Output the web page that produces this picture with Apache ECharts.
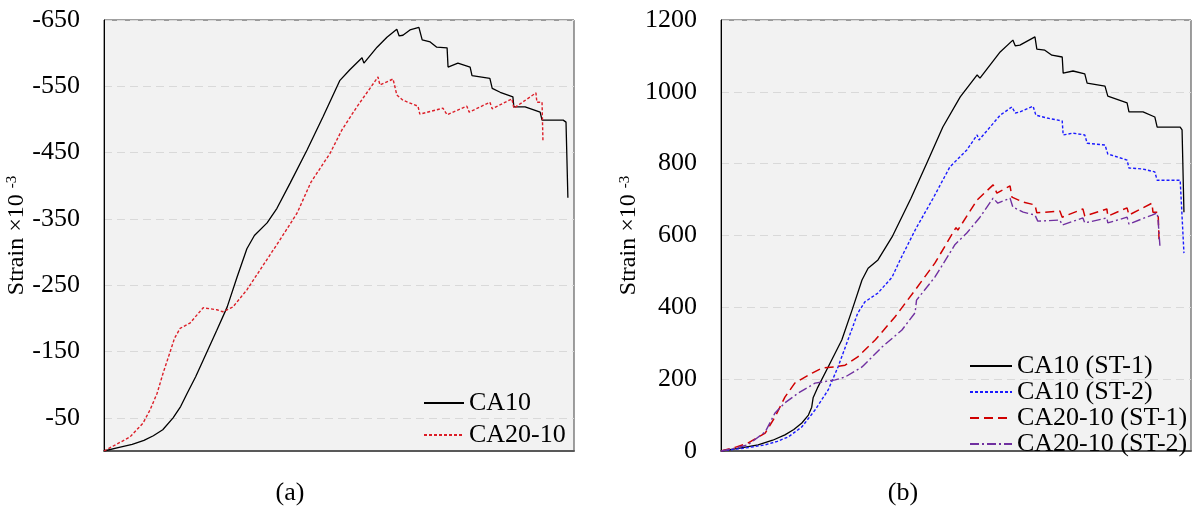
<!doctype html>
<html style="height: 100%">
    <head>
        <meta charset="utf-8">
        <title>Strain</title>
        <script src="https://cdn.jsdelivr.net/npm/echarts@6/dist/echarts.min.js"></script>
        <style>
            body { margin: 0; background: #fff; }
            #draw { width: 1195px; height: 508px; }
        </style>
    </head>
    <body>
        <div id="draw"></div>
        <script>
            // (a) 左图：应变为负，纵轴反向
            const leftTicks = [-650, -550, -450, -350, -250, -150, -50]
            const leftCA10 = [[0,0],[3,-5],[6,-10],[8.5,-16],[10.5,-23],[12.5,-32],[14.7,-50],[16.3,-67],[17.7,-87],[19.5,-112],[21.1,-137],[24,-182],[26.2,-217],[28.3,-262],[30.4,-305],[32,-325],[34.7,-344],[36.8,-366],[39.6,-404],[43.2,-454],[46.6,-504],[50.2,-559],[52.3,-575],[54.9,-593],[55.3,-585],[58.1,-609],[60.2,-624],[62.3,-636],[62.8,-626],[63.6,-627],[65.1,-635],[67,-639],[67.7,-620],[69.4,-617],[70.8,-609],[73,-608],[73.2,-579],[75.3,-585],[77.9,-579],[78.3,-566],[82.1,-562],[82.6,-547],[84.3,-541],[87,-534],[87.2,-519],[89.6,-519],[92.8,-511],[93.2,-499],[97.7,-499],[98.3,-496],[98.7,-382]]
            const leftCA2010 = [[0,0],[5.5,-21],[8.3,-42],[9.8,-62],[11.3,-87],[12.6,-118],[14,-148],[15,-170],[16.2,-185],[18.3,-193],[21.1,-216],[24,-213],[25.3,-210],[27.4,-217],[30.4,-243],[33.2,-273],[37.4,-318],[41.1,-359],[44,-405],[48.1,-449],[50.6,-484],[53.8,-519],[56,-541],[58.3,-564],[58.7,-552],[61.5,-561],[62.3,-537],[63.6,-529],[66.8,-520],[67.2,-508],[72.1,-517],[73,-507],[77.2,-520],[77.7,-511],[82.1,-526],[82.6,-516],[86.8,-531],[87.2,-517],[91.9,-540],[92.1,-526],[93.2,-526],[93.4,-466]]

            // (b) 右图
            const rightTicks = [0, 200, 400, 600, 800, 1000, 1200]
            const ca10st1 = [[0,0],[4,8],[7.9,17],[11,30],[13.6,45],[15.5,60],[17.2,78],[18.6,100],[19.3,122],[19.6,148],[20.5,175],[22.8,234],[25.7,309],[27.9,393],[30,476],[31.3,509],[33.4,532],[36.4,596],[40.4,703],[43.8,802],[47.2,902],[50.9,986],[54.5,1047],[55.1,1038],[59.4,1111],[62.1,1144],[62.6,1128],[63.6,1130],[66.8,1153],[67.2,1119],[68.9,1116],[70.4,1102],[72.6,1097],[72.8,1052],[74.9,1058],[77.4,1050],[77.9,1024],[81.7,1016],[82.3,988],[86.4,969],[86.8,944],[89.8,944],[92.3,930],[92.8,902],[97.7,902],[98.1,894],[98.5,665]]
            const ca10st2 = [[0,0],[5,8],[9.4,17],[12,27],[14.3,39],[17.2,67],[20,114],[22.8,170],[24.9,234],[27,309],[29.1,384],[30.6,415],[33.4,440],[36.4,484],[38.1,532],[41.5,620],[45.1,703],[48.7,791],[52.3,838],[54.5,880],[54.9,866],[59.4,935],[61.9,958],[62.6,941],[63.6,944],[66.4,960],[67,935],[69.4,927],[72.6,919],[72.8,880],[74.9,885],[77.4,880],[77.9,857],[81.7,852],[82.3,827],[86.4,810],[86.8,788],[89.8,785],[92.3,777],[92.8,754],[97.7,754],[98.5,551]]
            const ca2010st1 = [[0,0],[3,10],[5.7,22],[9.4,50],[11.5,95],[13.6,150],[15.7,189],[19.4,217],[21.5,231],[24.3,234],[26.4,239],[29.1,262],[32.8,309],[37,373],[41.3,448],[45.5,523],[50,622],[50.4,615],[54.5,699],[57.9,741],[58.3,741],[58.7,718],[61.5,738],[61.9,707],[64.3,693],[66.8,685],[67.2,663],[72.1,668],[72.6,651],[77,674],[77.4,654],[82.1,674],[82.3,654],[86.4,677],[86.8,657],[91.7,690],[91.9,665],[93,665],[93.2,587]]
            const ca2010st2 = [[0,0],[3,8],[5.7,17],[9.4,53],[11.5,106],[13.6,134],[16.4,161],[20,189],[24.3,198],[26.4,206],[30,234],[34.3,290],[38.5,337],[41.3,385],[41.6,420],[45.5,484],[49.8,575],[52.3,607],[55.1,651],[57.9,704],[58.3,704],[58.9,690],[61.5,704],[62.1,679],[64.3,665],[66.8,657],[67.4,640],[72.1,643],[72.6,629],[77,649],[77.4,635],[82.1,649],[82.3,635],[86.4,651],[86.8,632],[91.7,657],[92.8,663],[93,643],[93.4,568]]

            const serif = 'Liberation Serif'
            const gridLine = { show: true, lineStyle: { color: '#d9d9d9', type: [8, 5], width: 1 } }
            const yName = '{a|Strain ×10 }{b|-3}'
            const yNameStyle = {
                rich: {
                    a: { fontSize: 24, fontFamily: serif, color: '#000', lineHeight: 24 },
                    b: { fontSize: 15, fontFamily: serif, color: '#000', verticalAlign: 'top', lineHeight: 24 }
                }
            }
            const legendText = { fontSize: 26, fontFamily: serif, color: '#000' }

            function xAxis(i) {
                return {
                    gridIndex: i, type: 'value', min: 0, max: 100,
                    axisLabel: { show: false }, axisTick: { show: false }, splitLine: { show: false },
                    axisLine: { show: true, lineStyle: { color: '#595959', width: 2 } }
                }
            }

            function line(name, data, i, color, type, width) {
                return {
                    name: name, type: 'line', xAxisIndex: i, yAxisIndex: i, data: data,
                    symbol: 'none', smooth: false, animation: false,
                    lineStyle: { color: color, type: type, width: width }, itemStyle: { color: color }
                }
            }

            const chart = echarts.init(document.getElementById('draw'))
            chart.setOption({
                backgroundColor: '#fff',
                animation: false,
                grid: [
                    { left: 104, top: 20, width: 470, height: 431, show: true, backgroundColor: '#f2f2f2', borderColor: '#404040', borderWidth: 1 },
                    { left: 721, top: 20, width: 470, height: 431, show: true, backgroundColor: '#f2f2f2', borderColor: '#404040', borderWidth: 1 }
                ],
                xAxis: [xAxis(0), xAxis(1)],
                yAxis: [
                    {
                        gridIndex: 0, type: 'value', inverse: true, min: -650, max: 0,
                        name: yName, nameLocation: 'middle', nameGap: 70, nameTextStyle: yNameStyle,
                        axisLine: { show: true, lineStyle: { color: '#000', width: 1 } },
                        axisTick: { show: false, customValues: leftTicks },
                        axisLabel: { customValues: leftTicks, margin: 24, fontSize: 26, fontFamily: serif, color: '#000' },
                        splitLine: gridLine
                    },
                    {
                        gridIndex: 1, type: 'value', min: 0, max: 1200, interval: 200,
                        name: yName, nameLocation: 'middle', nameGap: 72, nameTextStyle: yNameStyle,
                        axisLine: { show: true, lineStyle: { color: '#000', width: 1 } },
                        axisTick: { show: false, customValues: rightTicks },
                        axisLabel: { customValues: rightTicks, formatter: v => String(v), margin: 24, fontSize: 26, fontFamily: serif, color: '#000' },
                        splitLine: gridLine
                    }
                ],
                legend: [
                    {
                        data: ['CA10', 'CA20-10'], orient: 'vertical', left: 418, top: 385,
                        itemWidth: 40, itemHeight: 14, itemGap: 6, itemStyle: { opacity: 0 },
                        textStyle: Object.assign({ lineHeight: 26 }, legendText)
                    },
                    {
                        data: ['CA10 (ST-1)', 'CA10 (ST-2)', 'CA20-10 (ST-1)', 'CA20-10 (ST-2)'], orient: 'vertical', left: 964, top: 348,
                        itemWidth: 42, itemHeight: 14, itemGap: 0, itemStyle: { opacity: 0 },
                        textStyle: Object.assign({ lineHeight: 25 }, legendText)
                    }
                ],
                graphic: [
                    { type: 'text', x: 290, y: 493, style: { text: '(a)', textAlign: 'center', textVerticalAlign: 'middle', font: '26px "Liberation Serif"', fill: '#000' } },
                    { type: 'text', x: 903, y: 493, style: { text: '(b)', textAlign: 'center', textVerticalAlign: 'middle', font: '26px "Liberation Serif"', fill: '#000' } }
                ],
                series: [
                    line('CA10', leftCA10, 0, '#000000', 'solid', 1.3),
                    line('CA20-10', leftCA2010, 0, '#dc1e28', [3, 2], 1.4),
                    line('CA10 (ST-1)', ca10st1, 1, '#000000', 'solid', 1.3),
                    line('CA10 (ST-2)', ca10st2, 1, '#1a1aff', [3, 2], 1.4),
                    line('CA20-10 (ST-1)', ca2010st1, 1, '#d00000', [9, 5], 1.5),
                    line('CA20-10 (ST-2)', ca2010st2, 1, '#7030a0', [9, 3, 2, 3], 1.4)
                ]
            })
        </script>
    </body>
</html>
